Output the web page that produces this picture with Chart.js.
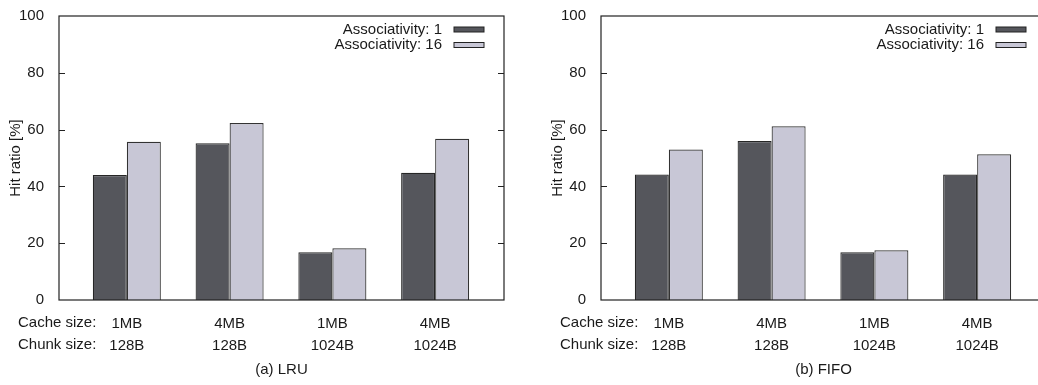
<!DOCTYPE html>
<html>
<head>
<meta charset="utf-8">
<script src="https://cdn.jsdelivr.net/npm/chart.js@4.4.0/dist/chart.umd.min.js"></script>
<style>
html, body { margin: 0; padding: 0; background: #fff; overflow: hidden; }
#wrap { position: relative; width: 1038px; height: 385px; overflow: hidden; }
.panel { position: absolute; top: 0; width: 519px; height: 385px; }
</style>
</head>
<body>
<div id="wrap">
  <div class="panel" style="left:0"><canvas id="lru" width="519" height="385"></canvas></div>
  <div class="panel" style="left:542px"><canvas id="fifo" width="519" height="385"></canvas></div>
</div>
<script>
const cacheSizes = ['1MB', '4MB', '1MB', '4MB'];
const chunkSizes = ['128B', '128B', '1024B', '1024B'];
const yTicks = [0, 20, 40, 60, 80, 100];
const seriesNames = ['Associativity: 1', 'Associativity: 16'];

const lruAssoc1 = [44.0, 55.2, 16.8, 44.8];
const lruAssoc16 = [55.7, 62.3, 18.2, 56.8];
const fifoAssoc1 = [44.2, 56.0, 16.8, 44.2];
const fifoAssoc16 = [53.0, 61.2, 17.5, 51.3];

const FONT = "'Liberation Sans', Arial, Helvetica, sans-serif";
const FSIZE = 15;
const TEXT = '#1a1a1a';
const DARK = '#55565c';
const LIGHT = '#c8c7d6';

// frame, inward ticks, legend, row labels and caption
const figureText = {
    id: 'figureText',
    afterDraw(chart, args, opts) {
        const ctx = chart.ctx;
        const a = chart.chartArea;
        const y = chart.scales.y;
        ctx.save();
        ctx.strokeStyle = '#222';
        ctx.lineWidth = 1.2;
        ctx.strokeRect(a.left, a.top, a.right - a.left, a.bottom - a.top);

        ctx.lineWidth = 1;
        yTicks.forEach(v => {
            if (v === 0 || v === 100) return;
            const py = Math.round(y.getPixelForValue(v)) + 0.5;
            ctx.beginPath();
            ctx.moveTo(a.left, py); ctx.lineTo(a.left + 6, py);
            ctx.moveTo(a.right - 6, py); ctx.lineTo(a.right, py);
            ctx.stroke();
        });

        ctx.fillStyle = TEXT;
        ctx.font = FSIZE + 'px ' + FONT;
        ctx.textBaseline = 'middle';

        // legend
        chart.data.datasets.forEach((ds, i) => {
            const ly = a.top + 13.5 + i * 15.5;
            ctx.textAlign = 'right';
            ctx.fillStyle = TEXT;
            ctx.fillText(ds.label, a.right - 62, ly);
            ctx.fillStyle = ds.backgroundColor;
            ctx.fillRect(a.right - 50, ly - 2.5, 30, 5);
            ctx.strokeStyle = '#222';
            ctx.strokeRect(a.right - 50, ly - 2.5, 30, 5);
        });

        // row labels
        ctx.fillStyle = TEXT;
        ctx.textAlign = 'left';
        ctx.fillText('Cache size:', 18, a.bottom + 23);
        ctx.fillText('Chunk size:', 18, a.bottom + 45);

        // caption
        ctx.textAlign = 'center';
        ctx.fillText(opts.caption, (a.left + a.right) / 2, a.bottom + 70);

        // y title
        ctx.translate(16, (a.top + a.bottom) / 2);
        ctx.rotate(-Math.PI / 2);
        ctx.fillText('Hit ratio [%]', 0, 0);
        ctx.restore();
    }
};

function makeChart(id, caption, assoc1, assoc16) {
    return new Chart(document.getElementById(id), {
        type: 'bar',
        data: {
            datasets: [{
                label: seriesNames[0],
                data: assoc1.map((v, i) => ({ x: i, y: v })),
                backgroundColor: DARK,
                borderColor: '#262626',
                borderWidth: 1.2
            }, {
                label: seriesNames[1],
                data: assoc16.map((v, i) => ({ x: i, y: v })),
                backgroundColor: LIGHT,
                borderColor: '#333',
                borderWidth: 1.2
            }]
        },
        options: {
            responsive: false,
            animation: false,
            layout: { padding: { top: 12, right: 15, left: 0, bottom: 0 } },
            datasets: { bar: { categoryPercentage: 0.662, barPercentage: 1 } },
            plugins: {
                legend: { display: false },
                tooltip: { enabled: false },
                figureText: { caption: caption }
            },
            scales: {
                x: {
                    type: 'linear',
                    offset: false,
                    min: -0.66,
                    max: 3.67,
                    grid: { display: false },
                    border: { display: false },
                    afterBuildTicks: s => { s.ticks = cacheSizes.map((c, i) => ({ value: i })); },
                    afterFit: s => { s.height = 85; },
                    ticks: {
                        callback: v => [cacheSizes[v], chunkSizes[v]],
                        font: { family: FONT, size: FSIZE, lineHeight: 22 / FSIZE },
                        color: TEXT,
                        padding: 5,
                        maxRotation: 0,
                        autoSkip: false
                    }
                },
                y: {
                    min: 0,
                    max: 100,
                    grid: { display: false },
                    border: { display: false },
                    afterBuildTicks: s => { s.ticks = yTicks.map(v => ({ value: v })); },
                    afterFit: s => { s.width = 59; },
                    ticks: {
                        font: { family: FONT, size: FSIZE },
                        color: TEXT,
                        padding: 7
                    }
                }
            }
        },
        plugins: [figureText]
    });
}

makeChart('lru', '(a) LRU', lruAssoc1, lruAssoc16);
makeChart('fifo', '(b) FIFO', fifoAssoc1, fifoAssoc16);
</script>
</body>
</html>
